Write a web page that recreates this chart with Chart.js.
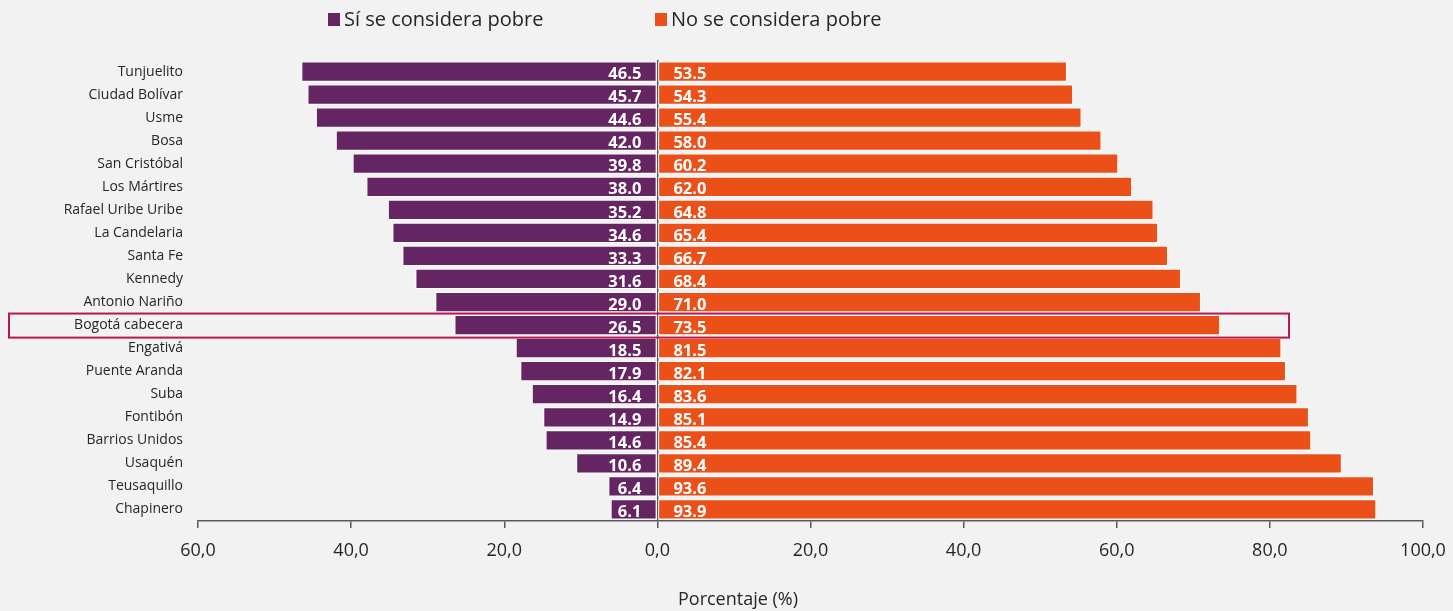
<!DOCTYPE html>
<html lang="es">
<head>
<meta charset="utf-8">
<title>Percepción de pobreza por localidad</title>
<script src="https://cdn.jsdelivr.net/npm/chart.js@4"></script>
<style>
  html, body { margin: 0; padding: 0; background: #f2f2f2; }
  #wrap { width: 1453px; height: 611px; }
</style>
</head>
<body>
<div id="wrap"><canvas id="chart" width="1453" height="611"></canvas></div>
<script>
// Data
const localidades = [
  'Tunjuelito', 'Ciudad Bolívar', 'Usme', 'Bosa', 'San Cristóbal', 'Los Mártires',
  'Rafael Uribe Uribe', 'La Candelaria', 'Santa Fe', 'Kennedy', 'Antonio Nariño',
  'Bogotá cabecera', 'Engativá', 'Puente Aranda', 'Suba', 'Fontibón',
  'Barrios Unidos', 'Usaquén', 'Teusaquillo', 'Chapinero'
];
const siPobre = [46.5, 45.7, 44.6, 42.0, 39.8, 38.0, 35.2, 34.6, 33.3, 31.6, 29.0, 26.5, 18.5, 17.9, 16.4, 14.9, 14.6, 10.6, 6.4, 6.1];
const noPobre = [53.5, 54.3, 55.4, 58.0, 60.2, 62.0, 64.8, 65.4, 66.7, 68.4, 71.0, 73.5, 81.5, 82.1, 83.6, 85.1, 85.4, 89.4, 93.6, 93.9];
const xTicks = [-60, -40, -20, 0, 20, 40, 60, 80, 100];
const destacado = 'Bogotá cabecera';

const PURPLE = '#652562';
const ORANGE = '#ec5019';
const TEXT = '#262626';
const FONT = '"Open Sans", "Noto Sans", sans-serif';

// Legend, value labels, highlight box and axis title
const extras = {
  id: 'extras',
  afterDatasetsDraw(chart) {
    const ctx = chart.ctx;
    const x = chart.scales.x;
    const y = chart.scales.y;
    const zero = x.getPixelForValue(0);

    // value labels next to the zero line
    ctx.save();
    ctx.fillStyle = '#fff';
    ctx.font = 'bold 16.5px ' + FONT;
    ctx.textBaseline = 'middle';
    chart.data.datasets.forEach((ds, i) => {
      const meta = chart.getDatasetMeta(i);
      meta.data.forEach((bar, j) => {
        const v = Math.abs(ds.data[j]).toFixed(1);
        if (ds.data[j] < 0) {
          ctx.textAlign = 'right';
          ctx.fillText(v, zero - 16, bar.y + 3);
        } else {
          ctx.textAlign = 'left';
          ctx.fillText(v, zero + 16, bar.y + 3);
        }
      });
    });
    ctx.restore();

    // highlight box round one row
    const idx = localidades.indexOf(destacado);
    const cy = y.getPixelForValue(idx);
    const half = (y.getPixelForValue(1) - y.getPixelForValue(0)) / 2;
    ctx.save();
    ctx.strokeStyle = '#b8174f';
    ctx.lineWidth = 2;
    ctx.strokeRect(9, cy - half, x.getPixelForValue(82.5) - 9, half * 2 + 1);
    ctx.restore();
  },
  afterDraw(chart) {
    const ctx = chart.ctx;
    ctx.save();
    // legend
    ctx.font = '20px ' + FONT;
    ctx.textBaseline = 'middle';
    ctx.textAlign = 'left';
    const items = [[328, chart.data.datasets[0]], [655, chart.data.datasets[1]]];
    items.forEach(([lx, ds]) => {
      ctx.fillStyle = ds.backgroundColor;
      ctx.fillRect(lx, 13, 12, 13);
      ctx.fillStyle = TEXT;
      ctx.fillText(ds.label, lx + 16, 20);
    });
    // axis title
    ctx.font = '18px ' + FONT;
    ctx.textAlign = 'center';
    ctx.fillText('Porcentaje (%)', 738, 600);
    ctx.restore();
  }
};

new Chart(document.getElementById('chart'), {
  type: 'bar',
  data: {
    labels: localidades,
    datasets: [
      {
        label: 'Sí se considera pobre',
        data: siPobre.map(v => -v),
        backgroundColor: PURPLE,
        borderColor: '#ffffff',
        borderWidth: 1,
        borderSkipped: false,
        categoryPercentage: 1,
        barPercentage: 0.88
      },
      {
        label: 'No se considera pobre',
        data: noPobre,
        backgroundColor: ORANGE,
        borderColor: '#ffffff',
        borderWidth: 1,
        borderSkipped: false,
        categoryPercentage: 1,
        barPercentage: 0.88
      }
    ]
  },
  options: {
    indexAxis: 'y',
    responsive: false,
    animation: false,
    layout: { padding: { top: 60, right: 30, left: 0, bottom: 0 } },
    plugins: {
      legend: { display: false },
      tooltip: { enabled: false }
    },
    scales: {
      x: {
        stacked: true,
        min: -60,
        max: 100,
        afterBuildTicks: scale => { scale.ticks = xTicks.map(v => ({ value: v })); },
        afterFit: scale => {
          scale.height = 90;
          scale.paddingLeft = 0;
          scale.paddingRight = 0;
        },
        border: { display: true, color: '#595959', width: 1.5 },
        grid: {
          drawOnChartArea: true,
          drawTicks: true,
          tickLength: 7,
          tickColor: '#595959',
          lineWidth: 1.5,
          color: ctx => (ctx.tick && ctx.tick.value === 0 ? '#595959' : 'rgba(0,0,0,0)')
        },
        ticks: {
          padding: 12,
          color: TEXT,
          font: { family: FONT, size: 18 },
          callback: v => Math.abs(v).toFixed(1).replace('.', ',')
        }
      },
      y: {
        stacked: true,
        afterFit: scale => { scale.width = 198; },
        border: { display: false },
        grid: { display: false, drawTicks: false },
        ticks: {
          padding: 15,
          color: TEXT,
          font: { family: FONT, size: 14 }
        }
      }
    }
  },
  plugins: [extras]
});
</script>
</body>
</html>
